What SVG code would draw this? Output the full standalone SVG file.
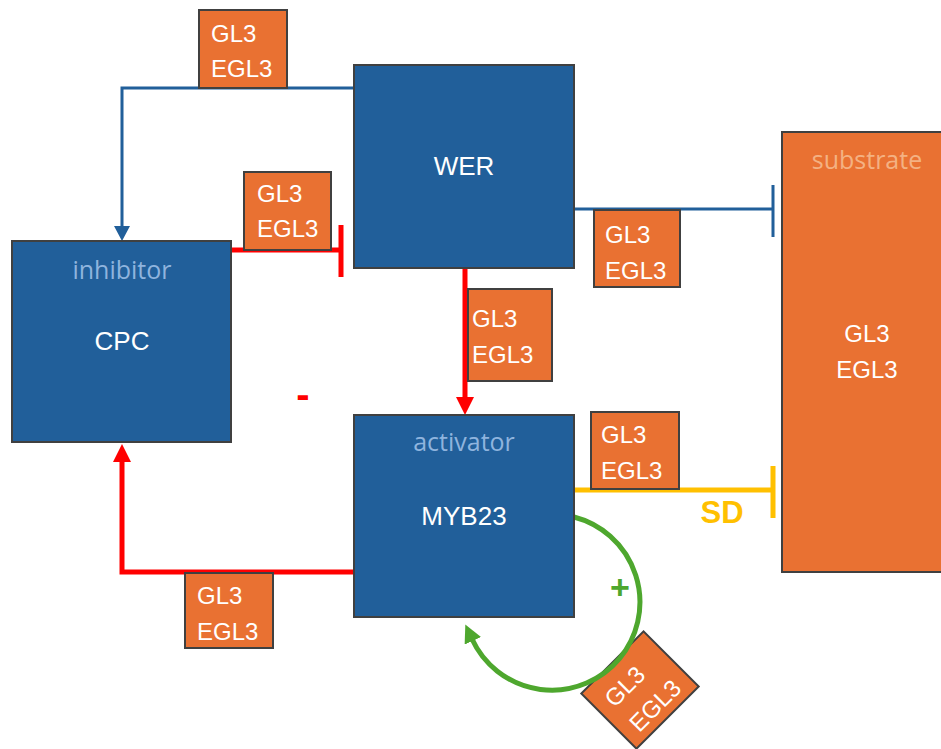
<svg xmlns="http://www.w3.org/2000/svg" width="941" height="749" viewBox="0 0 941 749">
<style>
.blue{fill:#215F9A;stroke:#404040;stroke-width:2}
.orange{fill:#E97132;stroke:#404040;stroke-width:2}
.t{font-family:"Liberation Sans",Arial,sans-serif;fill:#FFFFFF}
.name{font-size:26px}
.gl{font-size:24px}
.role{font-family:"Open Sans","Liberation Sans",sans-serif;font-size:25px}
.line{fill:none}
</style>
<defs>
<marker id="arRed" markerUnits="userSpaceOnUse" markerWidth="20" markerHeight="20" refX="0" refY="9" orient="auto"><path d="M0,0 L18,9 L0,18 z" fill="#FF0000"/></marker>
<marker id="arBlue" markerUnits="userSpaceOnUse" markerWidth="18" markerHeight="18" refX="0" refY="8" orient="auto"><path d="M0,0 L15,8 L0,16 z" fill="#215F9A"/></marker>
<marker id="arGreen" markerUnits="userSpaceOnUse" markerWidth="22" markerHeight="22" refX="2" refY="9" orient="auto"><path d="M0,0 L18,9 L0,18 z" fill="#4EA72E"/></marker>
</defs>
<rect width="941" height="749" fill="#FFFFFF"/>

<g id="gl7" transform="translate(640,690) rotate(-45)">
<rect class="orange" x="-44" y="-39" width="88" height="78"/>
<text class="t gl" x="-31" y="-5">GL3</text>
<text class="t gl" x="-31" y="30">EGL3</text>
</g>

<g id="connectors">
<path class="line" d="M354,88 H122 V226" stroke="#215F9A" stroke-width="3" marker-end="url(#arBlue)"/>
<path class="line" d="M231,250 H341 M341,225 V277" stroke="#FF0000" stroke-width="5"/>
<path class="line" d="M574,209 H773 M773,185 V237" stroke="#215F9A" stroke-width="3"/>
<path class="line" d="M465,268 V397" stroke="#FF0000" stroke-width="5" marker-end="url(#arRed)"/>
<path class="line" d="M574,490 H773 M773,466 V518" stroke="#FFC000" stroke-width="5"/>
<path class="line" d="M354,572 H122 V462" stroke="#FF0000" stroke-width="5" marker-end="url(#arRed)"/>
<path class="line" d="M574,517 A88,88 0 1 1 472,639" stroke="#4EA72E" stroke-width="5" marker-end="url(#arGreen)"/>
<text x="722" y="523" text-anchor="middle" font-family="Liberation Sans,Arial,sans-serif" font-weight="bold" font-size="31" fill="#FFC000">SD</text>
<text x="620" y="599" text-anchor="middle" font-family="Liberation Sans,Arial,sans-serif" font-weight="bold" font-size="34" fill="#4EA72E">+</text>
<text x="303" y="408" text-anchor="middle" font-family="Liberation Sans,Arial,sans-serif" font-weight="bold" font-size="40" fill="#FF0000">-</text>
</g>

<g id="WER">
<rect class="blue" x="354" y="65" width="220" height="203"/>
<text class="t name" x="464" y="175" text-anchor="middle">WER</text>
</g>
<g id="CPC">
<rect class="blue" x="12" y="241" width="219" height="201"/>
<text class="role" x="122" y="279" text-anchor="middle" fill="#8FB4DE">inhibitor</text>
<text class="t name" x="122" y="350" text-anchor="middle">CPC</text>
</g>
<g id="MYB23">
<rect class="blue" x="354" y="415" width="220" height="202"/>
<text class="role" x="464" y="451" text-anchor="middle" fill="#8FB4DE">activator</text>
<text class="t name" x="464" y="525" text-anchor="middle">MYB23</text>
</g>
<g id="substrate">
<rect class="orange" x="782" y="132" width="165" height="440"/>
<text class="role" x="867" y="169" text-anchor="middle" fill="#F4B183">substrate</text>
<text class="t gl" x="867" y="342" text-anchor="middle">GL3</text>
<text class="t gl" x="867" y="378" text-anchor="middle">EGL3</text>
</g>

<g id="gl1">
<rect class="orange" x="199" y="10" width="88" height="78"/>
<text class="t gl" x="211" y="42">GL3</text>
<text class="t gl" x="211" y="77">EGL3</text>
</g>
<g id="gl2">
<rect class="orange" x="244" y="172" width="87" height="78"/>
<text class="t gl" x="257" y="202">GL3</text>
<text class="t gl" x="257" y="237">EGL3</text>
</g>
<g id="gl3">
<rect class="orange" x="594" y="210" width="86" height="77"/>
<text class="t gl" x="605" y="243">GL3</text>
<text class="t gl" x="605" y="279">EGL3</text>
</g>
<g id="gl4">
<rect class="orange" x="468" y="289" width="84" height="92"/>
<text class="t gl" x="472" y="327">GL3</text>
<text class="t gl" x="472" y="363">EGL3</text>
</g>
<g id="gl5">
<rect class="orange" x="591" y="412" width="88" height="77"/>
<text class="t gl" x="601" y="443">GL3</text>
<text class="t gl" x="601" y="479">EGL3</text>
</g>
<g id="gl6">
<rect class="orange" x="185" y="573" width="88" height="75"/>
<text class="t gl" x="197" y="604">GL3</text>
<text class="t gl" x="197" y="640">EGL3</text>
</g>
</svg>
